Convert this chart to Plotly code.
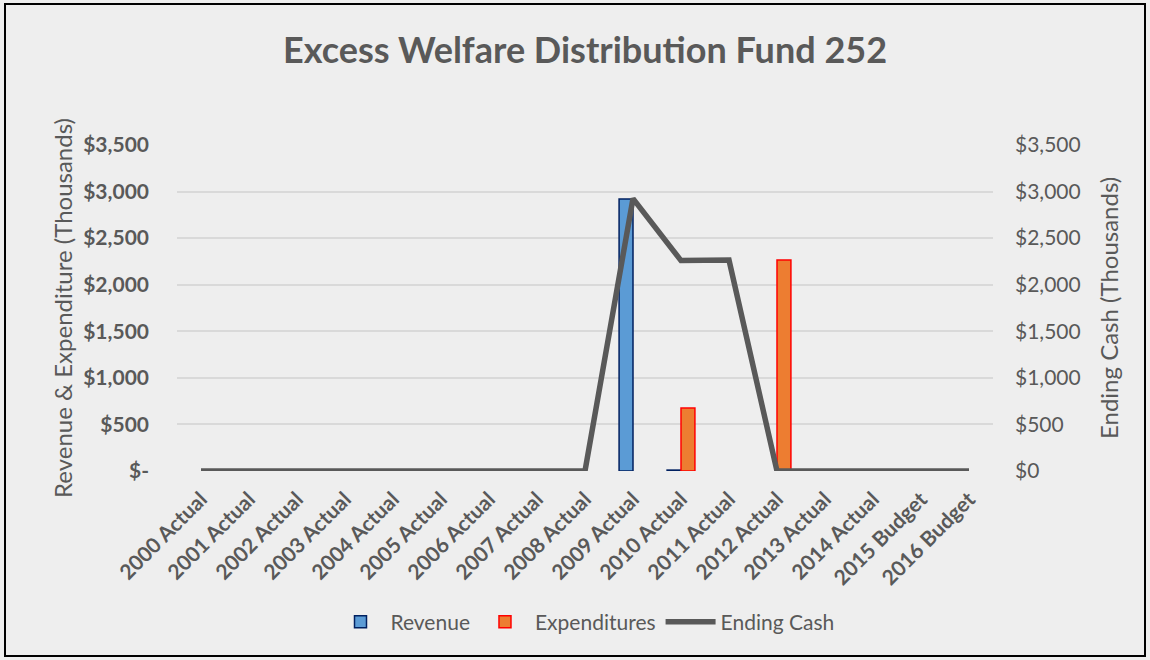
import plotly.graph_objects as go

categories = ["2000 Actual", "2001 Actual", "2002 Actual", "2003 Actual", "2004 Actual",
              "2005 Actual", "2006 Actual", "2007 Actual", "2008 Actual", "2009 Actual",
              "2010 Actual", "2011 Actual", "2012 Actual", "2013 Actual", "2014 Actual",
              "2015 Budget", "2016 Budget"]
revenue = [0, 0, 0, 0, 0, 0, 0, 0, 0, 2920, 10, 0, 0, 0, 0, 0, 0]
expenditures = [0, 0, 0, 0, 0, 0, 0, 0, 0, 0, 676, 0, 2265, 0, 0, 0, 0]
ending_cash = [0, 0, 0, 0, 0, 0, 0, 0, 0, 2925, 2259, 2264, 0, 0, 0, 0, 0]

tick_vals = [0, 500, 1000, 1500, 2000, 2500, 3000, 3500]
left_ticks = ["$-", "$500", "$1,000", "$1,500", "$2,000", "$2,500", "$3,000", "$3,500"]
right_ticks = ["$0", "$500", "$1,000", "$1,500", "$2,000", "$2,500", "$3,000", "$3,500"]

FONT = "Lato"
GREY = "#595959"


def nz(vals):
    return [v if v else None for v in vals]


fig = go.Figure()
fig.add_trace(go.Bar(x=categories, y=nz(revenue), name="Revenue",
                     marker=dict(color="#5B9BD5", line=dict(color="#002060", width=1.5))))
fig.add_trace(go.Bar(x=categories, y=nz(expenditures), name="Expenditures",
                     marker=dict(color="#ED7D31", line=dict(color="#FF0000", width=1.5))))
fig.add_trace(go.Scatter(x=categories, y=ending_cash, name="Ending Cash", yaxis="y2",
                         mode="lines", line=dict(color=GREY, width=5.5)))

L, R, T, B = 177, 157, 145, 189
W = 1150 - L - R
H = 660 - T - B


def px(x):
    return (x - L) / W


def py(y):
    return (660 - B - y) / H


fig.update_layout(
    width=1150, height=660,
    margin=dict(l=L, r=R, t=T, b=B, autoexpand=False),
    paper_bgcolor="#EEEEEE", plot_bgcolor="#EEEEEE",
    font=dict(family=FONT, color=GREY),
    barmode="group", bargap=0.42, bargroupgap=0,
    title=dict(text="<b>Excess Welfare Distribution Fund 252</b>", x=0.5, xref="paper",
               y=1 - 50 / 660, yref="container", yanchor="middle", xanchor="center",
               font=dict(size=36, color=GREY, family=FONT)),
    xaxis=dict(tickangle=-45, tickfont=dict(size=21, color=GREY, family=FONT, weight="bold"),
               showgrid=False, showline=False, zeroline=False, ticks="",
               ticklabelstandoff=11),
    yaxis=dict(range=[0, 3500], tickvals=tick_vals, ticktext=left_ticks,
               tickfont=dict(size=21, color=GREY, family=FONT, weight="bold"), showgrid=True,
               gridcolor="#D9D9D9", gridwidth=2, zeroline=False, showline=False, ticks="",
               ticklabelstandoff=27),
    yaxis2=dict(range=[0, 3500], tickvals=tick_vals, ticktext=right_ticks, overlaying="y",
                side="right", tickfont=dict(size=21, color=GREY, family=FONT), showgrid=False,
                zeroline=False, showline=False, ticks="", ticklabelstandoff=21),
    legend=dict(orientation="h", x=0.5, xanchor="center", y=py(622), yanchor="middle",
                font=dict(size=21, color=GREY, family=FONT), bgcolor="rgba(0,0,0,0)",
                traceorder="normal", itemwidth=50),
    showlegend=True,
)

fig.add_annotation(text="Revenue & Expenditure (Thousands)", x=px(62), y=0.5, xref="paper",
                   yref="paper", textangle=-90, showarrow=False,
                   font=dict(size=24, color=GREY, family=FONT), xanchor="center", yanchor="middle")
fig.add_annotation(text="Ending Cash (Thousands)", x=px(1108), y=0.5, xref="paper",
                   yref="paper", textangle=-90, showarrow=False,
                   font=dict(size=24, color=GREY, family=FONT), xanchor="center", yanchor="middle")

fig.add_shape(type="rect", xref="paper", yref="paper", x0=px(5), x1=px(1145), y0=py(656), y1=py(4),
              line=dict(color="black", width=2), fillcolor="rgba(0,0,0,0)", layer="above")

fig.write_html("out.html", config={"displayModeBar": False},
               post_script="document.body.style.margin='0';document.body.style.overflow='hidden';")
